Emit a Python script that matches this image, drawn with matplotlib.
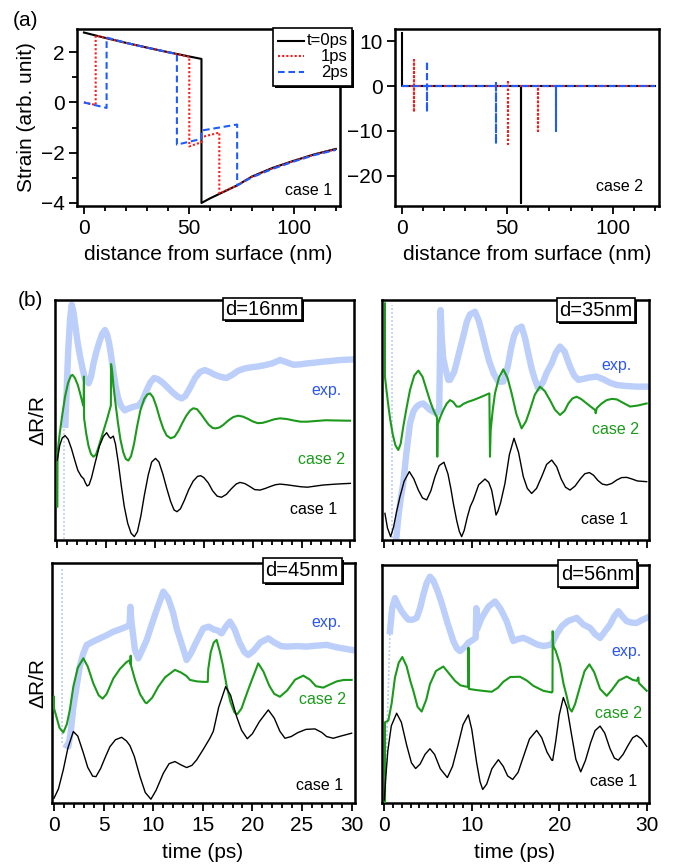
import matplotlib
matplotlib.use('Agg')
import matplotlib.pyplot as plt
from matplotlib.patches import Rectangle
from matplotlib.lines import Line2D
from matplotlib.ticker import MultipleLocator, FixedLocator, NullFormatter

plt.rcParams['font.family'] = ['Liberation Sans', 'DejaVu Sans']

# ---------------- data: panel (a) ----------------
# case 1 : strain profile vs depth (nm)
c1_t0_x = [0, 10, 20, 30, 40, 50, 56, 56, 60, 65, 73, 80, 90, 100, 110, 120]
c1_t0_y = [2.78, 2.57, 2.37, 2.18, 2.0, 1.83, 1.73, -4.0, -3.82, -3.62, -3.3, -2.95, -2.6, -2.32, -2.06, -1.85]
c1_t1_x = [0, 5.6, 5.6, 10, 20, 30, 40, 50.2, 50.2, 56, 56, 64.5, 64.5, 73, 80, 90, 100, 110, 120]
c1_t1_y = [0, -0.1, 2.66, 2.57, 2.37, 2.18, 2.0, 1.81, -1.75, -1.58, -1.38, -1.2, -3.62, -3.3, -2.96, -2.62, -2.33, -2.07, -1.87]
c1_t2_x = [0, 10.8, 10.8, 20, 30, 40, 44.3, 44.3, 56, 56, 73, 73, 80, 90, 100, 110, 120]
c1_t2_y = [0, -0.22, 2.58, 2.37, 2.18, 2.0, 1.92, -1.68, -1.45, -1.12, -0.88, -3.3, -2.98, -2.64, -2.35, -2.09, -1.89]
# case 2
c2_t0_x = [0.1, 0.1, 56.4, 56.4, 56.4, 120]
c2_t0_y = [11.9, 0, 0, -26.0, 0, 0]
c2_t1_x = [0, 5.7, 5.7, 5.7, 5.7, 50.4, 50.4, 50.4, 50.4, 64.8, 64.8, 64.8, 120]
c2_t1_y = [0, 0, 5.9, -5.7, 0, 0, 0.8, -12.9, 0, 0, -10.0, 0, 0]
c2_t2_x = [0, 11.7, 11.7, 11.7, 11.7, 44.5, 44.5, 44.5, 44.5, 73.3, 73.3, 73.3, 120]
c2_t2_y = [0, 0, 5.5, -5.8, 0, 0, 0.7, -13.0, 0, 0, -10.0, 0, 0]
legend_labels = ['t=0ps', '1ps', '2ps']

# ---------------- data: panel (b) ----------------
# d = 16 nm
d16_exp_t = [0.82, 0.95, 1.10, 1.30, 1.47, 1.65, 1.85, 2.05, 2.30, 2.55, 2.80, 3.00, 3.20, 3.45, 3.70, 4.00, 4.30, 4.60, 4.88, 5.10, 5.30, 5.50, 5.70, 5.95, 6.20, 6.50, 6.90, 7.30, 7.80, 8.30, 8.70, 9.10, 9.50, 9.90, 10.30, 10.80, 11.30, 11.80, 12.30, 12.73, 13.10, 13.60, 14.10, 14.60, 15.10, 15.60, 16.10, 16.70, 17.30, 17.90, 18.50, 19.20, 19.90, 20.50, 21.20, 22.00, 22.80, 23.50, 24.20, 24.90, 25.60, 26.40, 27.20, 28.00, 29.00, 30.10]
d16_exp_y = [48.0, 62.0, 78.0, 92.0, 98.0, 95.0, 89.0, 83.0, 77.0, 72.0, 67.5, 66.0, 65.3, 68.0, 73.5, 78.5, 82.5, 86.0, 87.5, 85.5, 82.0, 77.0, 71.0, 64.5, 59.5, 56.0, 54.0, 54.8, 55.5, 56.0, 58.0, 62.0, 65.5, 67.5, 67.0, 65.5, 63.5, 61.5, 59.8, 59.0, 60.0, 63.5, 67.5, 70.0, 70.8, 70.0, 68.9, 68.0, 67.5, 68.8, 70.5, 71.5, 72.0, 72.3, 72.8, 73.6, 75.0, 74.0, 73.0, 73.2, 73.6, 73.9, 74.3, 74.6, 75.0, 75.2]
d16_spike_t = [0.72, 0.72]
d16_spike_y = [0.5, 52.0]
d16_c2_t = [0.00, 0.02, 0.20, 0.50, 0.80, 1.10, 1.40, 1.55, 1.80, 2.10, 2.40, 2.65, 2.70, 2.72, 2.74, 2.95, 3.20, 3.45, 3.69, 3.95, 4.20, 4.50, 4.80, 5.10, 5.40, 5.48, 5.50, 5.62, 5.75, 5.95, 6.20, 6.45, 6.75, 7.00, 7.27, 7.55, 7.85, 8.15, 8.50, 8.90, 9.20, 9.49, 9.80, 10.15, 10.50, 10.85, 11.20, 11.60, 12.00, 12.40, 12.80, 13.20, 13.60, 13.92, 14.30, 14.70, 15.10, 15.50, 15.90, 16.20, 16.60, 17.00, 17.50, 18.00, 18.50, 19.00, 19.50, 20.00, 20.50, 21.00, 21.60, 22.20, 22.80, 23.50, 24.20, 24.90, 25.60, 26.50, 27.50, 28.50, 29.96]
d16_c2_y = [13.9, 36.0, 43.0, 52.0, 60.0, 65.5, 68.5, 68.8, 67.5, 64.5, 60.0, 56.0, 56.0, 68.1, 50.7, 44.5, 39.0, 35.8, 34.7, 35.5, 38.5, 42.5, 46.5, 50.5, 54.9, 56.0, 73.3, 70.0, 64.0, 57.0, 49.0, 42.0, 36.5, 33.8, 33.1, 35.0, 40.0, 47.0, 54.0, 58.8, 60.6, 61.1, 59.5, 55.5, 50.5, 46.3, 43.5, 42.4, 43.0, 45.5, 48.8, 51.8, 54.0, 54.9, 54.5, 52.5, 50.2, 48.0, 46.7, 46.5, 46.9, 48.0, 49.8, 51.2, 51.8, 51.4, 50.5, 49.4, 48.7, 48.8, 49.5, 50.3, 50.7, 50.4, 49.8, 49.3, 49.3, 49.6, 49.9, 49.8, 49.7]
d16_c1_t = [0.00, 0.25, 0.50, 0.79, 1.10, 1.45, 1.80, 2.10, 2.45, 2.70, 2.85, 3.05, 3.25, 3.50, 3.86, 4.30, 4.71, 5.05, 5.30, 5.45, 5.73, 5.95, 6.25, 6.55, 6.85, 7.20, 7.55, 7.88, 8.20, 8.55, 8.90, 9.30, 9.66, 10.05, 10.40, 10.80, 11.20, 11.60, 11.95, 12.25, 12.60, 13.00, 13.45, 13.90, 14.35, 14.67, 15.00, 15.45, 15.90, 16.35, 16.80, 17.30, 17.80, 18.30, 18.70, 19.20, 19.70, 20.20, 20.75, 21.30, 21.80, 22.30, 22.80, 23.50, 24.20, 24.90, 25.60, 26.30, 27.20, 28.20, 29.00, 30.00]
d16_c1_y = [33.3, 39.5, 42.5, 43.5, 42.0, 38.0, 33.0, 29.0, 26.5, 25.5, 24.0, 22.5, 23.0, 26.0, 32.0, 39.0, 43.1, 44.7, 43.0, 42.4, 43.3, 40.0, 32.0, 22.5, 14.0, 7.0, 2.8, 1.4, 3.5, 10.0, 18.5, 27.0, 32.5, 34.0, 32.5, 27.5, 21.5, 16.0, 12.5, 11.8, 13.0, 16.5, 21.0, 24.5, 26.5, 26.8, 26.0, 23.8, 20.5, 18.3, 17.8, 19.0, 21.3, 23.3, 24.0, 23.5, 22.3, 21.0, 20.8, 21.5, 22.3, 23.0, 23.3, 23.0, 22.6, 22.2, 22.0, 22.4, 22.9, 23.2, 23.4, 23.6]

# d = 35 nm
d35_exp_t = [1.40, 1.65, 1.90, 2.20, 2.55, 2.97, 3.35, 3.73, 4.10, 4.49, 4.87, 5.25, 5.63, 6.00, 6.30, 6.40, 6.46, 6.58, 6.75, 6.96, 7.34, 7.53, 8.00, 8.29, 8.70, 9.05, 9.45, 9.81, 10.38, 10.80, 11.20, 11.60, 12.00, 12.50, 13.04, 13.61, 14.10, 14.50, 14.83, 15.20, 15.70, 16.10, 16.50, 16.84, 17.20, 17.60, 18.10, 18.60, 19.13, 19.60, 20.08, 20.60, 21.22, 21.70, 22.17, 22.80, 23.40, 24.26, 25.00, 25.80, 26.54, 27.50, 28.82, 29.96]
d35_exp_y = [0.5, 10.0, 17.0, 23.6, 36.0, 48.6, 53.5, 55.6, 56.5, 56.9, 55.5, 54.2, 53.5, 52.8, 54.0, 80.0, 95.8, 85.0, 76.0, 72.2, 66.7, 66.7, 70.0, 74.0, 80.0, 85.0, 91.0, 94.0, 95.1, 91.5, 86.0, 80.0, 74.5, 69.5, 66.0, 66.0, 72.0, 80.0, 85.0, 88.0, 88.9, 84.0, 77.0, 71.5, 67.0, 63.2, 65.5, 70.0, 73.6, 78.0, 80.6, 78.5, 72.2, 68.5, 66.7, 67.2, 67.7, 68.1, 67.0, 65.5, 64.6, 64.2, 63.9, 63.9]
d35_spike_t = [0.87, 0.87]
d35_spike_y = [1.0, 98.0]
d35_c2_t = [0.11, 0.11, 0.30, 0.50, 0.70, 1.00, 1.30, 1.63, 1.90, 2.20, 2.60, 2.97, 3.45, 3.92, 4.40, 4.87, 5.25, 5.63, 6.00, 6.06, 6.08, 6.12, 6.40, 6.77, 7.15, 7.53, 7.90, 8.29, 8.65, 9.05, 9.60, 10.19, 10.80, 11.33, 11.70, 12.02, 12.09, 12.17, 12.40, 12.66, 13.10, 13.61, 14.10, 14.56, 15.10, 15.70, 16.20, 16.65, 17.20, 17.79, 18.35, 18.93, 19.50, 20.08, 20.60, 21.03, 21.50, 21.98, 22.50, 23.12, 23.60, 24.07, 24.15, 24.26, 24.80, 25.40, 26.00, 26.54, 27.20, 28.06, 28.90, 29.96]
d35_c2_y = [98.6, 68.1, 62.0, 56.0, 50.5, 44.0, 39.5, 37.5, 40.0, 47.2, 55.5, 62.5, 68.5, 70.6, 68.0, 62.5, 58.0, 54.2, 51.4, 51.0, 34.7, 47.9, 51.0, 54.2, 56.8, 58.3, 57.5, 55.6, 55.6, 56.7, 57.6, 58.3, 59.2, 60.0, 60.6, 61.1, 34.7, 45.8, 54.0, 61.1, 67.5, 71.1, 67.5, 61.1, 52.5, 46.5, 49.5, 54.2, 60.5, 63.9, 62.0, 58.3, 54.3, 52.1, 53.8, 56.9, 59.0, 59.7, 58.7, 56.9, 55.5, 54.2, 52.8, 54.9, 56.8, 58.3, 58.8, 58.6, 57.3, 55.6, 56.0, 56.9]
d35_c1_t = [0.11, 0.40, 0.76, 1.10, 1.45, 1.83, 2.30, 2.89, 3.40, 3.92, 4.40, 4.87, 5.35, 5.82, 6.30, 6.84, 7.30, 7.65, 7.91, 8.30, 8.60, 8.86, 9.15, 9.50, 9.85, 10.19, 10.80, 11.52, 11.95, 12.28, 12.55, 12.78, 13.00, 13.30, 13.80, 14.30, 14.83, 15.35, 15.89, 16.35, 16.84, 17.40, 18.00, 18.55, 19.13, 19.70, 20.20, 20.70, 21.22, 21.80, 22.40, 22.90, 23.42, 23.90, 24.40, 24.90, 25.40, 25.95, 26.55, 27.10, 27.68, 28.30, 28.90, 29.96]
d35_c1_y = [11.1, 5.0, 1.4, 5.5, 12.0, 18.1, 24.5, 28.5, 25.5, 20.8, 17.5, 16.7, 20.5, 26.4, 31.0, 32.4, 27.5, 21.0, 15.3, 8.0, 3.5, 1.4, 4.0, 9.5, 14.0, 16.7, 23.0, 25.4, 24.0, 20.8, 15.5, 10.4, 12.0, 15.5, 23.6, 35.5, 42.4, 36.5, 26.4, 21.5, 19.4, 21.5, 26.5, 31.5, 33.3, 30.5, 25.5, 22.0, 20.8, 22.5, 25.5, 27.6, 28.1, 27.0, 24.8, 23.3, 22.9, 23.5, 25.0, 26.0, 26.1, 25.4, 24.6, 24.3]

# d = 45 nm
d45_exp_t = [1.30, 1.44, 1.70, 1.95, 2.28, 2.60, 2.96, 3.30, 3.63, 4.00, 4.64, 5.30, 5.98, 6.65, 7.32, 7.62, 7.70, 7.80, 8.16, 8.50, 8.80, 9.34, 9.67, 10.30, 11.02, 11.50, 12.00, 12.36, 12.90, 13.37, 13.80, 14.38, 15.05, 15.60, 16.06, 16.50, 16.90, 17.30, 17.74, 18.20, 18.70, 19.20, 19.58, 20.10, 20.80, 21.60, 22.20, 22.90, 23.45, 24.50, 25.46, 26.50, 27.48, 28.50, 30.00]
d45_exp_y = [24.0, 23.6, 30.0, 40.0, 48.6, 57.0, 62.5, 66.0, 66.7, 67.5, 68.75, 70.0, 71.5, 72.5, 73.6, 74.5, 81.9, 76.0, 63.9, 60.4, 63.0, 68.0, 72.2, 80.0, 88.2, 85.5, 79.5, 73.0, 66.0, 59.7, 62.5, 67.5, 72.9, 73.6, 72.5, 72.0, 70.8, 73.5, 75.7, 72.5, 67.0, 63.0, 61.8, 63.5, 67.0, 68.75, 67.0, 65.5, 65.3, 65.5, 65.3, 65.7, 66.0, 65.0, 63.9]
d45_spike_t = [0.77, 0.77]
d45_spike_y = [25.0, 98.0]
d45_c2_t = [0.00, 0.00, 0.25, 0.55, 0.94, 1.30, 1.60, 1.95, 2.40, 2.96, 3.40, 3.96, 4.50, 4.90, 5.30, 5.98, 6.65, 7.30, 7.66, 7.70, 7.73, 7.76, 8.20, 8.67, 9.20, 9.34, 9.90, 10.50, 11.20, 12.19, 12.80, 13.37, 13.71, 14.40, 15.05, 15.50, 15.55, 15.80, 16.10, 16.39, 16.70, 17.00, 17.40, 17.80, 18.20, 18.47, 18.90, 19.50, 20.00, 20.59, 21.10, 21.70, 22.20, 22.77, 23.50, 24.30, 25.13, 25.80, 26.40, 27.14, 27.80, 28.50, 29.20, 30.00]
d45_c2_y = [44.4, 39.6, 36.0, 31.5, 29.5, 33.0, 39.0, 48.6, 56.5, 60.4, 57.0, 50.0, 45.0, 43.6, 45.5, 52.0, 56.0, 58.8, 59.7, 58.0, 61.5, 57.5, 51.0, 45.5, 42.0, 41.7, 44.0, 48.5, 52.5, 55.6, 54.5, 53.0, 51.4, 50.8, 50.6, 50.6, 56.0, 63.0, 67.0, 68.1, 63.5, 58.0, 49.0, 42.0, 37.8, 37.1, 39.5, 46.5, 52.0, 58.3, 55.0, 49.0, 45.6, 44.4, 47.0, 51.5, 53.2, 51.5, 48.8, 48.2, 49.5, 50.8, 51.4, 51.4]
d45_c1_t = [0.00, 0.45, 0.94, 1.40, 1.95, 2.40, 2.96, 3.40, 3.90, 4.23, 4.70, 5.20, 5.64, 6.20, 6.82, 7.30, 7.66, 8.10, 8.67, 9.20, 9.77, 10.30, 11.02, 11.60, 12.19, 12.80, 13.37, 13.90, 14.38, 15.05, 15.70, 16.06, 16.60, 17.30, 17.80, 18.41, 18.90, 19.48, 20.00, 20.70, 21.60, 22.20, 22.77, 23.28, 23.90, 24.60, 25.40, 26.30, 27.00, 27.48, 28.15, 28.90, 30.00]
d45_c1_y = [2.1, 6.0, 14.0, 23.0, 29.9, 28.0, 21.0, 15.0, 11.3, 11.1, 14.5, 19.5, 23.6, 26.5, 27.5, 26.0, 24.0, 19.5, 11.1, 4.5, 1.7, 5.5, 12.5, 16.5, 17.4, 16.0, 14.9, 15.8, 18.1, 22.5, 27.0, 30.0, 40.0, 48.6, 45.0, 36.1, 30.5, 26.9, 29.0, 34.0, 38.9, 35.5, 30.0, 27.1, 27.8, 29.5, 30.8, 31.0, 29.5, 27.8, 27.1, 28.0, 29.2]

# d = 56 nm
d56_exp_t = [0.65, 0.90, 1.22, 1.60, 1.98, 2.40, 2.74, 3.20, 3.70, 4.10, 4.46, 4.85, 5.22, 5.60, 6.10, 6.56, 7.20, 7.89, 8.30, 8.65, 9.20, 9.61, 10.10, 10.45, 10.52, 10.60, 11.13, 11.90, 12.66, 13.30, 13.99, 14.75, 15.30, 15.90, 16.50, 17.04, 17.60, 18.19, 18.70, 19.14, 19.70, 20.28, 21.00, 22.00, 22.76, 23.52, 24.10, 24.67, 25.20, 25.81, 26.30, 26.76, 27.20, 27.72, 28.30, 28.86, 29.40, 30.00]
d56_exp_y = [72.2, 82.0, 86.1, 83.0, 80.6, 78.5, 77.1, 77.0, 77.8, 82.0, 87.5, 92.5, 95.1, 93.5, 89.0, 84.0, 76.0, 68.1, 65.0, 63.9, 65.5, 67.4, 68.5, 69.5, 81.9, 73.0, 77.8, 82.5, 84.7, 81.5, 76.4, 68.1, 68.9, 69.4, 68.5, 67.4, 66.5, 66.0, 66.3, 66.7, 71.0, 74.3, 76.5, 77.8, 75.0, 73.6, 71.0, 69.4, 72.0, 75.0, 78.5, 80.6, 78.5, 76.4, 75.8, 75.7, 76.8, 77.8]
d56_spike_t = [0.08, 0.65]
d56_spike_y = [1.4, 72.0]
d56_c2_t = [0.08, 0.08, 0.46, 0.84, 1.22, 1.65, 2.06, 2.55, 3.00, 3.32, 3.80, 4.27, 4.80, 5.22, 5.90, 6.75, 7.40, 8.08, 8.70, 9.30, 9.61, 9.63, 9.66, 10.56, 11.25, 12.28, 13.00, 13.61, 14.40, 15.52, 16.30, 17.04, 18.19, 19.14, 19.23, 19.25, 19.32, 19.60, 20.09, 20.50, 20.85, 21.15, 21.43, 21.80, 22.38, 22.90, 23.45, 24.00, 24.67, 25.43, 26.00, 26.80, 27.72, 28.40, 28.86, 29.05, 29.10, 30.00]
d56_c2_y = [0.0, 34.0, 34.7, 42.0, 52.8, 59.0, 61.4, 57.5, 51.0, 47.2, 40.5, 38.5, 43.5, 50.0, 55.5, 57.4, 54.5, 51.4, 49.5, 49.0, 48.9, 65.3, 48.0, 47.5, 47.2, 46.8, 48.5, 51.0, 53.0, 53.1, 51.5, 49.3, 47.2, 46.5, 46.8, 72.2, 66.0, 64.0, 58.3, 50.0, 45.0, 40.0, 38.5, 41.5, 49.0, 55.5, 58.3, 55.0, 48.0, 45.1, 47.5, 51.5, 53.2, 51.8, 51.4, 52.8, 50.5, 47.2]
d56_c1_t = [0.00, 0.15, 0.40, 0.80, 1.41, 1.95, 2.55, 3.10, 3.58, 4.10, 4.65, 5.22, 5.75, 6.40, 7.21, 7.80, 8.40, 9.00, 9.61, 10.00, 10.56, 10.95, 11.25, 11.70, 12.30, 13.04, 13.60, 14.10, 14.68, 15.30, 15.90, 16.60, 17.42, 18.00, 18.60, 19.14, 19.25, 19.60, 20.00, 20.47, 20.90, 21.40, 21.90, 22.46, 23.00, 23.60, 24.10, 24.67, 25.20, 25.80, 26.30, 26.76, 27.30, 27.90, 28.40, 28.86, 29.40, 30.00]
d56_c1_y = [1.4, 10.0, 22.0, 32.5, 37.8, 34.0, 24.5, 17.0, 14.6, 16.5, 20.5, 22.9, 20.5, 14.5, 10.8, 15.5, 24.0, 33.0, 37.1, 31.0, 17.0, 9.0, 5.8, 8.0, 14.5, 18.3, 15.5, 11.5, 10.0, 13.0, 19.5, 27.0, 30.6, 27.5, 21.5, 18.1, 18.0, 26.0, 37.0, 44.4, 40.0, 29.0, 18.5, 13.2, 18.0, 25.5, 30.5, 32.4, 29.5, 23.0, 19.0, 18.1, 20.5, 24.5, 27.5, 28.5, 27.0, 23.9]

panel_names = ['d=16nm', 'd=35nm', 'd=45nm', 'd=56nm']
time_ticks_left = [0, 5, 10, 15, 20, 25, 30]
time_ticks_right = [0, 10, 20, 30]

# ---------------- styling ----------------
W, H = 678, 865
fig = plt.figure(figsize=(W / 100, H / 100), dpi=100)

C_RED = '#ff1a1a'
C_BLUE = '#1f5cff'
C_EXP = '#bccefa'
C_GREEN = '#1c9a1c'
C_EXPTXT = '#2c55f0'

def fx(x):
    return x / W

def fy(y):
    return 1 - y / H

def ax_px(l, t, r, b):
    return fig.add_axes([l / W, 1 - b / H, (r - l) / W, (b - t) / H])

def style(ax):
    for s in ax.spines.values():
        s.set_linewidth(1.8)
    ax.tick_params(which='major', direction='out', length=6, width=1.3, labelsize=15, pad=3)
    ax.tick_params(which='minor', direction='out', length=3.5, width=1.3)
    ax.tick_params(top=False, right=False)

def fig_box(x0, y0, x1, y1, shadow=2.2, lw=1.2):
    sh = Rectangle((fx(x0 + shadow), fy(y1 + shadow)), (x1 - x0) / W, (y1 - y0) / H,
                   transform=fig.transFigure, facecolor='black', edgecolor='black', lw=0, zorder=20)
    bx = Rectangle((fx(x0), fy(y1)), (x1 - x0) / W, (y1 - y0) / H,
                   transform=fig.transFigure, facecolor='white', edgecolor='black', lw=lw, zorder=21)
    fig.add_artist(sh)
    fig.add_artist(bx)

# ---------------- panel (a) ----------------
axA1 = ax_px(77, 29, 340, 206)
axA1.plot(c1_t0_x, c1_t0_y, color='black', lw=1.5, zorder=3)
axA1.plot(c1_t1_x, c1_t1_y, color=C_RED, lw=1.5, ls=(0, (1, 1)), zorder=4)
axA1.plot(c1_t2_x, c1_t2_y, color=C_BLUE, lw=1.5, ls=(0, (3.2, 1.8)), zorder=5)
axA1.set_xlim(-3.3, 122)
axA1.set_ylim(-4.12, 2.92)
axA1.xaxis.set_major_locator(FixedLocator([0, 50, 100]))
axA1.xaxis.set_minor_locator(MultipleLocator(10))
axA1.yaxis.set_major_locator(FixedLocator([-4, -2, 0, 2]))
axA1.yaxis.set_minor_locator(FixedLocator([-3, -1, 1]))
style(axA1)
axA1.text(0.97, 0.045, 'case 1', transform=axA1.transAxes, ha='right', va='bottom', fontsize=11.5)

axA2 = ax_px(395, 29, 659, 206)
axA2.plot(c2_t0_x, c2_t0_y, color='black', lw=1.5, zorder=3)
axA2.plot(c2_t1_x, c2_t1_y, color=C_RED, lw=1.5, ls=(0, (1, 1)), zorder=4)
axA2.plot(c2_t2_x, c2_t2_y, color=C_BLUE, lw=1.5, ls=(0, (3.2, 1.8)), zorder=5)
axA2.set_xlim(-3.3, 122)
axA2.set_ylim(-26.7, 12.7)
axA2.xaxis.set_major_locator(FixedLocator([0, 50, 100]))
axA2.xaxis.set_minor_locator(MultipleLocator(10))
axA2.yaxis.set_major_locator(FixedLocator([-20, -10, 0, 10]))
style(axA2)
axA2.text(0.94, 0.07, 'case 2', transform=axA2.transAxes, ha='right', va='bottom', fontsize=11.5)

fig.text(fx(208), fy(255), 'distance from surface (nm)', ha='center', va='center', fontsize=15)
fig.text(fx(527), fy(255), 'distance from surface (nm)', ha='center', va='center', fontsize=15)
fig.text(fx(27), fy(117), 'Strain (arb. unit)', ha='center', va='center', rotation=90, fontsize=15)
fig.text(fx(26), fy(21), '(a)', ha='center', va='center', fontsize=15)

# legend
fig_box(273, 28, 352, 86)
leg_styles = [dict(color='black', lw=1.5),
              dict(color=C_RED, lw=1.5, ls=(0, (1, 1))),
              dict(color=C_BLUE, lw=1.5, ls=(0, (3.2, 1.8)))]
for lab, st, yy in zip(legend_labels, leg_styles, [41, 56, 72]):
    fig.add_artist(Line2D([fx(278), fx(304)], [fy(yy), fy(yy)], transform=fig.transFigure, zorder=22, **st))
    fig.text(fx(348), fy(yy), lab, ha='right', va='center', fontsize=12, zorder=23)

# ---------------- panel (b) ----------------
panels = [
    dict(rect=(55, 300, 354, 540), xlim=(-0.24, 30.37), ticks=time_ticks_left, labels=False,
         exp=(d16_exp_t, d16_exp_y), spike=(d16_spike_t, d16_spike_y),
         c2=(d16_c2_t, d16_c2_y), c1=(d16_c1_t, d16_c1_y),
         box=(222.7, 298, 301.7, 320), txt=[(326.7, 390), (321, 459.3), (313.3, 509.3)]),
    dict(rect=(382.3, 300, 649.3, 540), xlim=(-0.19, 30.26), ticks=time_ticks_right, labels=False,
         exp=(d35_exp_t, d35_exp_y), spike=(d35_spike_t, d35_spike_y),
         c2=(d35_c2_t, d35_c2_y), c1=(d35_c1_t, d35_c1_y),
         box=(556.7, 298, 635, 322), txt=[(616.7, 365), (615, 430), (605, 519)]),
    dict(rect=(51.7, 563.3, 355, 803.3), xlim=(-0.23, 30.34), ticks=time_ticks_left, labels=True,
         exp=(d45_exp_t, d45_exp_y), spike=(d45_spike_t, d45_spike_y),
         c2=(d45_c2_t, d45_c2_y), c1=(d45_c1_t, d45_c1_y),
         box=(262.7, 558, 341.7, 583), txt=[(327, 623), (322.7, 700), (320, 785)]),
    dict(rect=(382.3, 565, 649.3, 803.3), xlim=(-0.23, 30.3), ticks=time_ticks_right, labels=True,
         exp=(d56_exp_t, d56_exp_y), spike=(d56_spike_t, d56_spike_y),
         c2=(d56_c2_t, d56_c2_y), c1=(d56_c1_t, d56_c1_y),
         box=(558, 560, 637, 587), txt=[(626.7, 651.7), (618.3, 713.3), (613.3, 781.7)]),
]

for p, name in zip(panels, panel_names):
    ax = ax_px(*p['rect'])
    ax.plot(*p['spike'], color=C_EXP, lw=1.2, ls=(0, (1.2, 1.2)), zorder=1)
    ax.plot(*p['exp'], color=C_EXP, lw=4.6, solid_joinstyle='round', zorder=1)
    ax.plot(*p['c2'], color=C_GREEN, lw=1.5, zorder=3)
    ax.plot(*p['c1'], color='black', lw=1.0, zorder=4)
    ax.set_xlim(*p['xlim'])
    ax.set_ylim(0, 100)
    ax.set_yticks([])
    ax.xaxis.set_major_locator(FixedLocator(p['ticks']))
    ax.xaxis.set_minor_locator(MultipleLocator(1))
    style(ax)
    if not p['labels']:
        ax.xaxis.set_major_formatter(NullFormatter())
    x0, y0, x1, y1 = p['box']
    fig_box(x0, y0, x1, y1)
    fig.text(fx((x0 + x1) / 2), fy((y0 + y1) / 2 + 0.5), name, ha='center', va='center', fontsize=14.5, zorder=25)
    for (tx, ty), s, c in zip(p['txt'], ['exp.', 'case 2', 'case 1'], [C_EXPTXT, C_GREEN, 'black']):
        fig.text(fx(tx), fy(ty), s, ha='center', va='center', fontsize=11.5, color=c)

fig.text(fx(30), fy(300), '(b)', ha='center', va='center', fontsize=15)
fig.text(fx(38), fy(420), 'ΔR/R', ha='center', va='center', rotation=90, fontsize=15)
fig.text(fx(38), fy(683), 'ΔR/R', ha='center', va='center', rotation=90, fontsize=15)
fig.text(fx(203), fy(853), 'time (ps)', ha='center', va='center', fontsize=15)
fig.text(fx(515), fy(853), 'time (ps)', ha='center', va='center', fontsize=15)

fig.savefig('out.png', dpi=100)
